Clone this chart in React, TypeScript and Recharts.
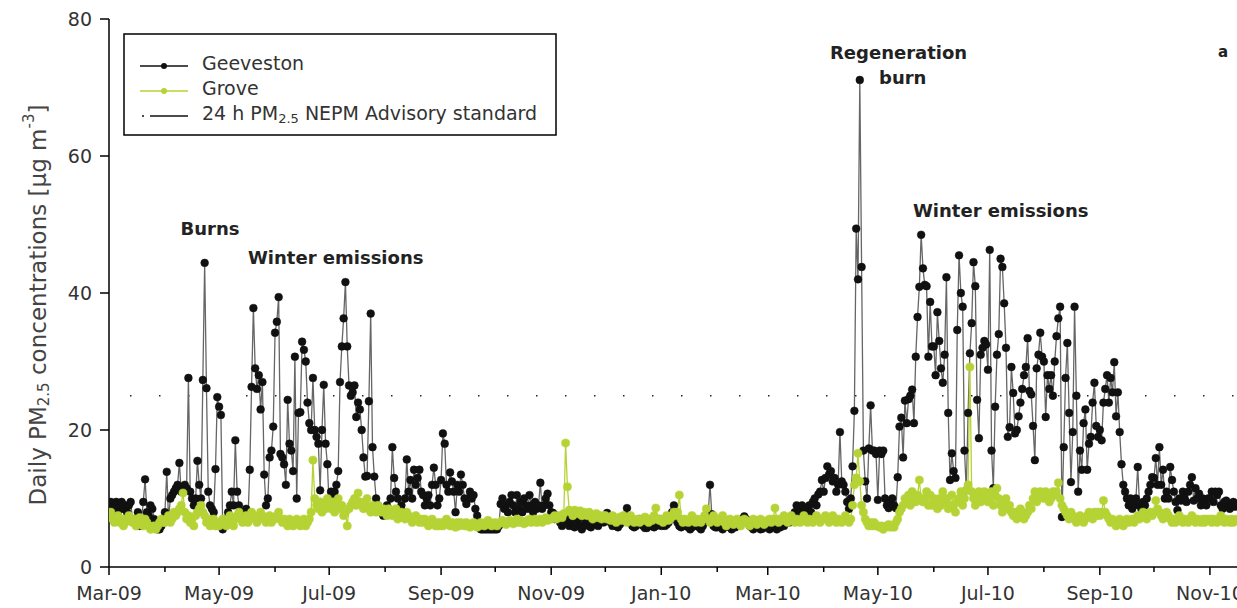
import React from 'react';
import { LineChart, Line, XAxis, YAxis, ReferenceLine } from 'recharts';

// Geeveston daily PM2.5, one array per month (Mar-09 .. mid Nov-10)
const gMar09 = [9, 9.5, 8.5, 9, 9.5, 8, 9, 9.5, 8.5, 9, 8, 9, 9.5, 7, 6.5, 7, 8, 6, 7, 9.5, 12.8, 8, 7.5, 9, 8.5, 7, 5.8, 5.5, 5.5, 6, 7];
const gApr09 = [8, 13.9, 7, 10, 10.5, 11, 11.5, 12, 15.2, 11, 11.7, 12, 11.5, 27.6, 11, 10, 9, 10, 15.5, 12, 10, 27.3, 44.4, 26.1, 11, 9, 8.5, 8, 14.3, 24.8];
const gMay09 = [23.4, 22.2, 5.5, 6, 7, 8, 9, 11, 9, 18.5, 11, 9, 8, 7.5, 8, 8.5, 7, 14.2, 26.3, 37.8, 29, 26, 28, 23, 27, 13.5, 9, 10, 16, 17, 20.5];
const gJun09 = [34.2, 35.8, 39.4, 16.5, 16, 15, 12, 24.4, 18, 17, 14, 30.7, 10, 22.5, 22.6, 32.9, 31.7, 30, 24, 21, 20, 27.6, 20, 19, 18, 11.2, 20, 26.6, 18, 15];
const gJul09 = [9, 11, 10.5, 11, 12, 14, 27, 32.2, 36.3, 41.6, 32.2, 26.5, 25, 25.5, 26.5, 21.9, 24, 23, 20, 16, 13.2, 13.3, 24.2, 37, 17.5, 13.2, 10, 9, 8.5, 8, 7.5];
const gAug09 = [8, 9, 8.5, 10, 17.5, 13, 11, 10, 8.5, 9, 8, 10, 15.7, 11, 12.7, 10, 14.2, 12, 13, 14.2, 11, 10.5, 9, 10, 10.5, 9, 12, 14.5, 12, 9, 10];
const gSep09 = [12.7, 19.5, 18, 12, 11, 13.8, 12.5, 11, 8, 12, 11, 13.5, 12, 10, 9.2, 10, 11, 10, 10.5, 8.5, 7.5, 6, 5.5, 5.5, 5.5, 5.5, 5.5, 5.5, 5.5, 5.5];
const gOct09 = [5.5, 5.5, 6, 9.2, 10, 8.5, 9, 8, 9.5, 10.5, 9, 8, 10.5, 8.5, 9.5, 8, 10, 9, 8.5, 10.5, 9, 8, 9.5, 8.5, 9, 12.3, 8.5, 9, 10, 10.7, 9];
const gNov09 = [8, 7.9, 7, 7.5, 7, 6.5, 6, 7, 7.5, 6.8, 6, 6.4, 6, 5.8, 6.5, 7, 6, 5.5, 6, 6.5, 7, 6, 5.8, 6.2, 6.5, 7, 6, 6.5, 7, 6.5];
const gDec09 = [7, 7.9, 7, 6.5, 6, 6.5, 6, 5.8, 6.2, 6.5, 7, 7.5, 8.6, 7, 6.5, 6, 5.8, 6, 6.5, 7, 6.5, 6, 5.7, 5.7, 6, 6.5, 6, 5.8, 6, 6.5, 7];
const gJan10 = [6, 6.5, 6, 6.2, 6.5, 7, 8, 9, 7, 6.5, 6, 5.8, 6, 6.5, 6, 5.8, 5.5, 5.8, 6, 6.5, 6, 5.8, 5.5, 6, 6.5, 7, 7.7, 12, 7.7, 6, 5.8];
const gFeb10 = [5.8, 6, 5.8, 5.5, 5.8, 6, 6.2, 5.8, 5.5, 6, 5.8, 6, 6.5, 6.8, 7, 7.4, 7, 6.5, 6, 5.8, 5.5, 5.8, 6, 5.8, 5.5, 5.6, 5.8, 6];
const gMar10 = [5.8, 5.5, 5.8, 6, 5.8, 5.5, 6, 5.8, 6.2, 6, 6.5, 7, 6.5, 7, 7.5, 8, 9, 8.5, 7.5, 9, 8, 8.5, 7.5, 9, 8, 9.5, 10, 9, 10.6, 11, 12.7];
const gApr10 = [11, 13, 14.7, 13.5, 14, 12.5, 13, 11, 12, 19.7, 12.5, 12, 11, 9.5, 8.5, 10, 14.7, 22.8, 49.4, 42, 71.1, 43.8, 17, 12.5, 10, 17.3, 23.6, 17, 17, 16.5];
const gMay10 = [9.8, 17, 16.5, 17, 10, 9, 8.6, 9.5, 10, 9, 8.6, 13.1, 20.5, 21.8, 16, 24.3, 21, 24.5, 25, 25.9, 21, 30.7, 36.5, 40.9, 48.5, 43.6, 41.2, 41, 30.7, 38.7, 32.2];
const gJun10 = [32.2, 28, 37.2, 33, 29, 26.9, 31, 42.3, 22.5, 12.7, 16.6, 14, 13, 34.6, 45.5, 40, 38, 17, 11.2, 22.5, 31.2, 35.6, 44.5, 41, 24.4, 18.8, 31, 32, 33, 32.5];
const gJul10 = [28.8, 46.3, 17, 11.5, 23.4, 31, 34, 45, 43.8, 38.5, 32, 19, 20.4, 29.2, 25.4, 19.5, 20, 22, 24, 26, 28, 29.2, 33.4, 25.7, 25.2, 20.6, 15.6, 29, 31, 34.2, 30.7];
const gAug10 = [30, 21.9, 28, 26, 28, 25, 30, 33.7, 36.3, 38, 7.3, 17.5, 27.6, 32.7, 22.5, 12.4, 19.7, 38, 25, 11, 17, 14.2, 21, 23, 14.2, 18, 19, 24, 26.9, 20.6, 19];
const gSep10 = [20, 18.5, 24, 26, 28, 24, 27.6, 25.5, 29.9, 22, 25.5, 19.7, 15, 12, 11, 10, 9, 10, 8.5, 9, 10, 14.6, 9, 8.5, 9.5, 9, 10, 11, 12, 13.1];
const gOct10 = [13, 15.9, 12, 17.5, 12, 14.2, 10, 11, 10, 14.6, 12.7, 11, 9.5, 8.3, 10, 9.7, 11, 10, 9.5, 11, 12, 13.1, 9.7, 11.5, 10, 10.7, 9, 10, 9.5, 9, 10];
const gNov10 = [10, 11, 9.5, 11, 10.5, 11, 9, 8.5, 9.5, 9.7, 9, 8.5, 9, 9.5, 8.8, 9];

// Grove daily PM2.5
const rMar09 = [7.5, 8, 7, 6.5, 7, 7.5, 6.5, 7, 6, 6.5, 7, 7.5, 6.8, 6.5, 7, 6, 6.5, 7.2, 6.5, 6, 7, 6.5, 6, 5.5, 5.8, 6, 5.5, 6, 6.5, 7, 6.5];
const rApr09 = [6.5, 7, 7.5, 6.5, 7, 8, 7.5, 8, 8.5, 9, 10.8, 8, 7, 7.5, 6.5, 7, 6, 7.5, 8, 8.5, 9, 8, 7.5, 6.5, 7, 6, 6.5, 7, 6, 6.5];
const rMay09 = [6, 6.5, 7, 6.5, 6, 7, 7.5, 6.5, 6, 7, 7.5, 8, 7, 6.5, 7, 7.5, 6.5, 7, 8, 7.5, 7, 6.5, 7, 8, 7.5, 7, 6.5, 7, 7.5, 6.5, 7];
const rJun09 = [7, 7.5, 8, 7, 6.5, 7, 6.5, 6, 7, 6.5, 6, 6.5, 7, 6.5, 6, 6.5, 7, 6, 6.5, 7, 8, 15.6, 10, 9, 8.5, 9.5, 8, 9, 8.5, 10];
const rJul09 = [9, 8.5, 9.5, 8, 9, 10, 8.5, 9, 7.5, 8, 6, 8.5, 9, 9.5, 10, 9, 10.8, 9.5, 9, 8.5, 9, 10, 8.5, 8, 9, 8.5, 8, 9, 8.5, 8, 8.5];
const rAug09 = [8, 7.5, 8.5, 8, 7.5, 8, 8.5, 7, 7.5, 8, 7.5, 7, 8, 7.5, 7, 6.5, 7, 7.5, 7, 6.5, 7, 6.5, 7, 6.5, 6, 6.5, 7, 6.5, 6, 6.5, 6];
const rSep09 = [6.5, 6, 6.5, 7, 6.5, 6, 6.5, 6, 5.8, 6.5, 6, 6.5, 6.2, 6, 6.5, 6, 5.8, 6, 6.5, 6, 5.8, 6, 6.5, 6.2, 6, 6.5, 6.8, 6.5, 6, 6.3];
const rOct09 = [6.5, 6, 6.3, 6.5, 6.8, 6.5, 6.2, 6.5, 6.8, 6.5, 6.3, 6.5, 7, 6.5, 6.8, 6.5, 6.3, 6.5, 6.8, 7, 6.5, 6.8, 7, 6.5, 6.8, 7, 6.5, 7, 7.2, 6.8, 7];
const rNov09 = [7, 7.2, 7.5, 7, 7.3, 7.5, 7.2, 7.8, 18.1, 11.7, 8.3, 8, 7.5, 8.3, 8, 7.8, 8.2, 7.5, 8, 7.8, 7.5, 8, 7.5, 7, 7.5, 7.8, 7.2, 7.5, 7, 7.5];
const rDec09 = [7.5, 7, 7.2, 6.8, 7.5, 7, 6.5, 7, 7.3, 6.8, 7.5, 7, 6.5, 7, 7.5, 7, 6.5, 6.8, 7, 6.5, 7, 6.8, 7.3, 7, 6.5, 7, 6.8, 7.5, 8.6, 7, 6.8];
const rJan10 = [7, 6.5, 7, 7.5, 6.8, 7, 7.5, 8, 7.5, 8, 10.5, 7, 6.5, 7, 6.8, 6.5, 7, 7.5, 7, 6.5, 7, 6.8, 6.5, 7, 7.5, 8.5, 7, 6.5, 7, 7.5, 6.8];
const rFeb10 = [6.5, 7, 6.8, 7.5, 6.5, 6, 6.8, 7, 6.5, 6.2, 6.8, 7, 6.5, 6, 6.5, 7, 6.8, 6.5, 6, 6.5, 7, 6.8, 6.2, 6.5, 7, 6.5, 6.2, 6.5];
const rMar10 = [6.8, 7, 6.5, 7, 8.6, 7, 6.5, 7, 6.8, 7.5, 7, 6.5, 7, 7.5, 7, 6.5, 7, 6.8, 6.5, 7, 7.5, 7, 6.5, 7, 6.8, 6.5, 7, 7.5, 7, 6.5, 7];
const rApr10 = [7, 7.5, 7, 6.5, 7, 7.5, 7, 6.5, 7, 6.8, 6.5, 7, 7.5, 7, 6.5, 7, 9, 12, 13, 16.6, 12.5, 9, 8, 7, 6.5, 6, 6.5, 6, 6.5, 6];
const rMay10 = [6, 5.8, 6, 5.5, 5.8, 6, 6.2, 5.8, 6, 5.8, 6.5, 7, 8, 8.5, 9, 10, 9.5, 10.5, 9, 11, 10, 9.5, 10.5, 12.7, 10, 9.5, 10, 11, 9, 10.5, 9];
const rJun10 = [10, 9.5, 8.5, 10, 9, 11, 9.5, 10, 8.5, 9, 10.5, 9, 8, 9.5, 10, 11, 9, 10, 11.2, 12, 29.2, 11, 10, 9, 10.5, 11, 9.5, 10, 11, 10];
const rJul10 = [9.5, 10, 11, 9, 10.5, 11.5, 10, 9, 8, 9.5, 10, 8.5, 9, 8, 7.5, 8, 7, 7.5, 8.5, 8, 7, 7.5, 8, 9, 8.5, 10, 11, 9.5, 10, 11, 10.5];
const rAug10 = [10, 11, 10.5, 9.5, 10, 11, 10.5, 11, 12.3, 10, 9, 8.5, 8, 7.5, 7, 8, 7.5, 7, 6.5, 7, 7.5, 7, 6.5, 7, 7.5, 8, 7.5, 7, 8, 7.5, 8];
const rSep10 = [7.5, 8, 9.7, 8, 7.5, 7, 6.5, 7, 6.5, 6, 6.5, 7, 6.5, 6, 6.5, 7, 6.5, 6.8, 7, 6.5, 7, 7.5, 7, 7.5, 8, 7.5, 7, 7.5, 8, 7.5];
const rOct10 = [8, 9.7, 8.5, 8, 7.5, 7, 7.5, 8, 7.5, 7, 6.5, 7, 6.5, 7, 7.5, 7, 6.5, 7, 6.8, 6.5, 7, 7.5, 7, 6.5, 7, 6.8, 6.5, 7, 6.5, 7, 6.8];
const rNov10 = [7, 6.5, 7, 6.8, 6.5, 7, 7.5, 7, 6.5, 7, 6.8, 6.5, 7, 6.5, 6.8, 7];

const monthLabels = ['Mar-09', 'Apr-09', 'May-09', 'Jun-09', 'Jul-09', 'Aug-09', 'Sep-09', 'Oct-09', 'Nov-09', 'Dec-09',
  'Jan-10', 'Feb-10', 'Mar-10', 'Apr-10', 'May-10', 'Jun-10', 'Jul-10', 'Aug-10', 'Sep-10', 'Oct-10', 'Nov-10'];
const yTicks = [0, 20, 40, 60, 80];
const nepmStandard = 25;

const geeMonths = [gMar09, gApr09, gMay09, gJun09, gJul09, gAug09, gSep09, gOct09, gNov09, gDec09, gJan10, gFeb10,
  gMar10, gApr10, gMay10, gJun10, gJul10, gAug10, gSep10, gOct10, gNov10];
const groveMonths = [rMar09, rApr09, rMay09, rJun09, rJul09, rAug09, rSep09, rOct09, rNov09, rDec09, rJan10, rFeb10,
  rMar10, rApr10, rMay10, rJun10, rJul10, rAug10, rSep10, rOct10, rNov10];

const geeveston = geeMonths.flat();
const grove = groveMonths.flat();
const monthStarts: number[] = [];
geeMonths.reduce((acc, m) => { monthStarts.push(acc); return acc + m.length; }, 0);

const data = geeveston.map((v, i) => ({ day: i, gee: v, grove: grove[i] }));

const FONT = 'DejaVu Sans';
const GREEN = '#b5d334';

const XTick = (props: any) => {
  const { x, y, payload } = props;
  const idx = monthStarts.indexOf(payload.value);
  const major = idx % 2 === 0;
  return (
    <g>
      <line x1={x} x2={x} y1={y} y2={y + (major ? 8 : 5)} stroke="#000" strokeWidth={1.5} />
      {major && (
        <text x={x} y={y + 26} textAnchor="middle" dominantBaseline="central" fontSize={19} fill="#333" fontFamily={FONT}>
          {monthLabels[idx]}
        </text>
      )}
    </g>
  );
};

const boldText = { fontFamily: FONT, fontWeight: 'bold' as const, fontSize: 18, fill: '#222' };

export default function App() {
  return (
    <div style={{ position: 'absolute', left: 0, top: 0, width: 1237, height: 608, background: '#fff' }}>
      <LineChart width={1237} height={608} data={data} margin={{ top: 19, right: 0, bottom: 0, left: 0 }}>
        <XAxis
          dataKey="day"
          type="number"
          domain={[0, 625]}
          allowDataOverflow
          ticks={monthStarts}
          interval={0}
          tick={<XTick />}
          tickLine={false}
          tickSize={0}
          tickMargin={0}
          height={41}
          axisLine={{ stroke: '#000', strokeWidth: 1.5 }}
        />
        <YAxis
          domain={[0, 80]}
          ticks={yTicks}
          width={109}
          tickSize={9}
          tickMargin={8}
          tick={{ fontSize: 19, fill: '#333', fontFamily: FONT }}
          tickLine={{ stroke: '#000', strokeWidth: 1.5 }}
          axisLine={{ stroke: '#000', strokeWidth: 1.5 }}
        />
        <ReferenceLine y={nepmStandard} stroke="#222" strokeWidth={1.5} strokeDasharray="1.5 27.5" strokeDashoffset={8} />
        <Line
          type="linear"
          dataKey="gee"
          stroke="#666"
          strokeWidth={1.3}
          dot={{ r: 3.9, fill: '#111', stroke: '#111', strokeWidth: 0.5 }}
          activeDot={false}
          isAnimationActive={false}
        />
        <Line
          type="linear"
          dataKey="grove"
          stroke={GREEN}
          strokeWidth={1.3}
          dot={{ r: 4.1, fill: GREEN, stroke: GREEN, strokeWidth: 0.5 }}
          activeDot={false}
          isAnimationActive={false}
        />

        {/* y axis title */}
        <text transform="translate(38,305) rotate(-90)" textAnchor="middle" dominantBaseline="central" fontSize={23} fill="#444" fontFamily={FONT}>
          Daily PM<tspan fontSize={15} dy={6}>2.5</tspan>
          <tspan dy={-6}> concentrations [µg m</tspan>
          <tspan fontSize={15} dy={-9}>-3</tspan>
          <tspan dy={9}>]</tspan>
        </text>

        {/* annotations */}
        <text x={210} y={228} textAnchor="middle" dominantBaseline="central" {...boldText}>Burns</text>
        <text x={248} y={257} dominantBaseline="central" {...boldText}>Winter emissions</text>
        <text x={830} y={52} dominantBaseline="central" {...boldText}>Regeneration</text>
        <text x={879} y={77} dominantBaseline="central" {...boldText}>burn</text>
        <text x={913} y={210} dominantBaseline="central" {...boldText}>Winter emissions</text>
        <text x={1218} y={52} dominantBaseline="central" {...boldText} fontSize={15}>a</text>

        {/* legend */}
        <g>
          <rect x={124} y={34} width={432} height={101} fill="#fff" stroke="#000" strokeWidth={1.5} />
          <line x1={140} x2={188} y1={66} y2={66} stroke="#111" strokeWidth={1.5} />
          <circle cx={164} cy={66} r={3} fill="#111" />
          <text x={202} y={63} dominantBaseline="central" fontSize={19} fill="#333" fontFamily={FONT}>Geeveston</text>
          <line x1={140} x2={188} y1={91} y2={91} stroke={GREEN} strokeWidth={1.5} />
          <circle cx={164} cy={91} r={3} fill={GREEN} />
          <text x={202} y={88} dominantBaseline="central" fontSize={19} fill="#333" fontFamily={FONT}>Grove</text>
          <circle cx={143} cy={116} r={1} fill="#111" />
          <line x1={150} x2={188} y1={116} y2={116} stroke="#111" strokeWidth={1.5} />
          <text x={202} y={113} dominantBaseline="central" fontSize={19} fill="#333" fontFamily={FONT}>
            24 h PM<tspan fontSize={13} dy={5}>2.5</tspan>
            <tspan dy={-5}> NEPM Advisory standard</tspan>
          </text>
        </g>
      </LineChart>
    </div>
  );
}
